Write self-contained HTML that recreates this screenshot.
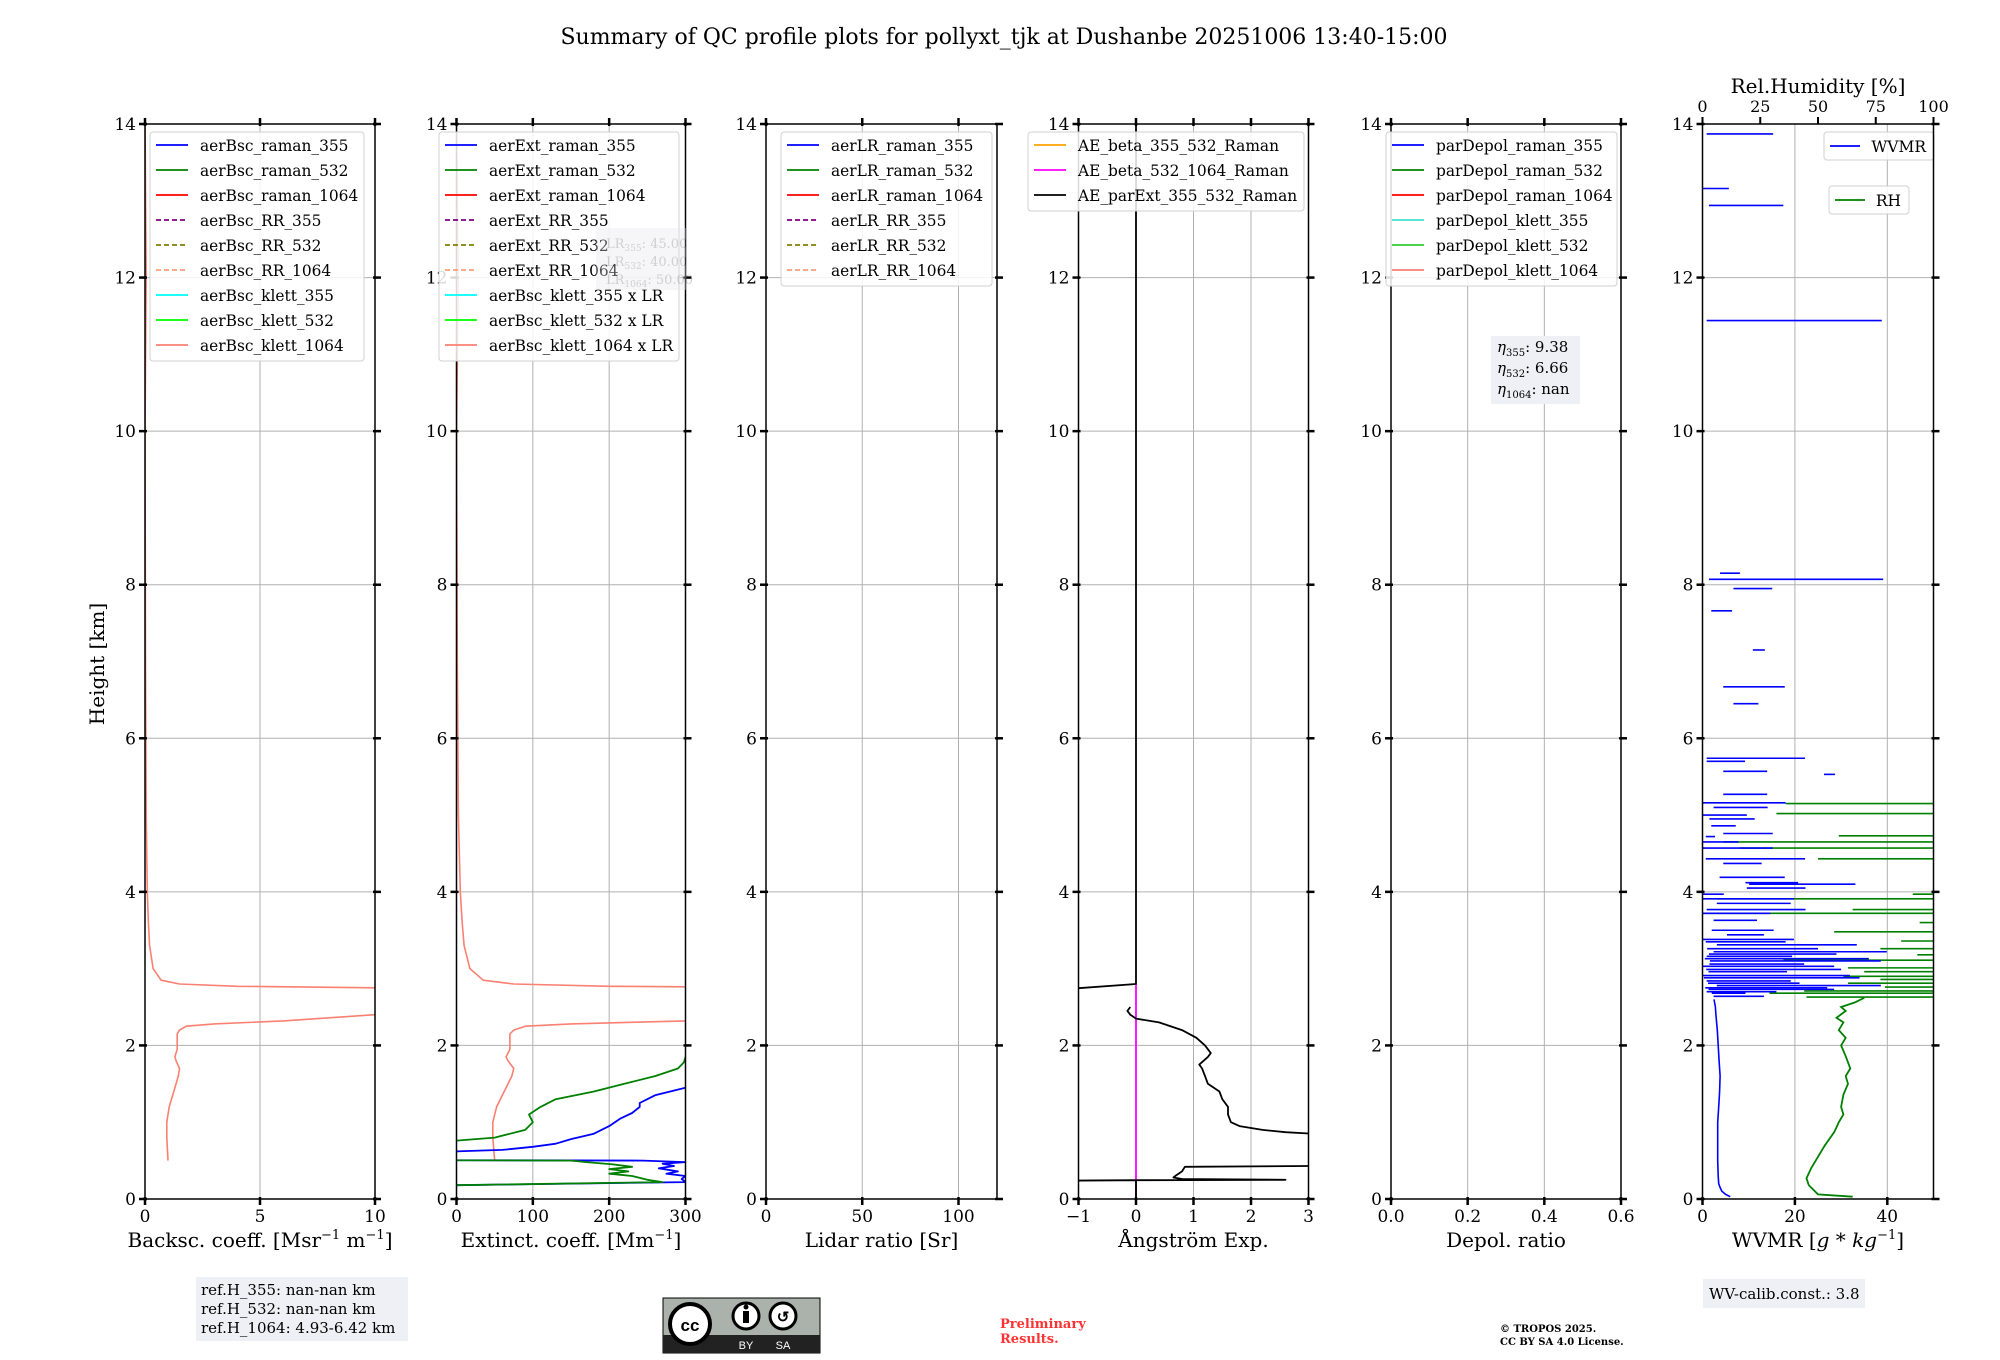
<!DOCTYPE html>
<html><head><meta charset="utf-8"><style>
body{margin:0;background:#fff}
svg{display:block;font-family:"DejaVu Serif","Liberation Serif",serif}
</style></head><body>
<svg id="chart" width="2000" height="1360" viewBox="0 0 2000 1360" xmlns="http://www.w3.org/2000/svg">
<rect width="2000" height="1360" fill="#fff"/>
<text x="1004" y="44" font-size="22" text-anchor="middle">Summary of QC profile plots for pollyxt_tjk at Dushanbe 20251006 13:40-15:00</text>
<text transform="translate(104,664) rotate(-90)" font-size="20" text-anchor="middle">Height [km]</text>
<g id="plots"></g>
<g opacity="0.35">
<rect x="596" y="228" width="90" height="62" fill="#e8e8ee"/>
<text x="606" y="248" font-size="13" fill="#777">LR<tspan font-size="9" dy="3">355</tspan><tspan dy="-3">: 45.00</tspan></text>
<text x="606" y="266" font-size="13" fill="#777">LR<tspan font-size="9" dy="3">532</tspan><tspan dy="-3">: 40.00</tspan></text>
<text x="606" y="284" font-size="13" fill="#777">LR<tspan font-size="9" dy="3">1064</tspan><tspan dy="-3">: 50.00</tspan></text>
</g>
<g>
<rect x="1491" y="336" width="89" height="68" fill="#eef0f5"/>
<text x="1497" y="352" font-size="15"><tspan font-style="italic">η</tspan><tspan font-size="10" dy="4">355</tspan><tspan dy="-4">: 9.38</tspan></text>
<text x="1497" y="373" font-size="15"><tspan font-style="italic">η</tspan><tspan font-size="10" dy="4">532</tspan><tspan dy="-4">: 6.66</tspan></text>
<text x="1497" y="394" font-size="15"><tspan font-style="italic">η</tspan><tspan font-size="10" dy="4">1064</tspan><tspan dy="-4">: nan</tspan></text>
</g>
<g>
<rect x="196" y="1277" width="212" height="64" fill="#eef0f5"/>
<text x="201" y="1295" font-size="15">ref.H_355: nan-nan km</text>
<text x="201" y="1314" font-size="15">ref.H_532: nan-nan km</text>
<text x="201" y="1333" font-size="15">ref.H_1064: 4.93-6.42 km</text>
</g>
<g>
<rect x="663" y="1298" width="157" height="55" fill="#aab2ab" stroke="#000" stroke-width="1"/>
<rect x="663" y="1335" width="157" height="18" fill="#222"/>
<circle cx="690" cy="1324" r="20" fill="#fff" stroke="#000" stroke-width="4"/>
<text x="690" y="1331" font-size="17" font-weight="bold" text-anchor="middle" font-family="Liberation Sans,sans-serif">cc</text>
<circle cx="746" cy="1316" r="13" fill="#fff" stroke="#000" stroke-width="3"/>
<rect x="743" y="1311" width="6" height="12" fill="#000"/><circle cx="746" cy="1307" r="2.5" fill="#000"/>
<circle cx="783" cy="1316" r="13" fill="#fff" stroke="#000" stroke-width="3"/>
<text x="783" y="1322" font-size="15" font-weight="bold" text-anchor="middle" font-family="Liberation Sans,sans-serif">↺</text>
<text x="746" y="1349" font-size="11" fill="#fff" text-anchor="middle" font-family="Liberation Sans,sans-serif">BY</text>
<text x="783" y="1349" font-size="11" fill="#fff" text-anchor="middle" font-family="Liberation Sans,sans-serif">SA</text>
</g>
<text x="1000" y="1328" font-size="13" font-weight="bold" fill="#ff3333">Preliminary</text>
<text x="1000" y="1343" font-size="13" font-weight="bold" fill="#ff3333">Results.</text>
<text x="1500" y="1332" font-size="10" font-weight="bold">© TROPOS 2025.</text>
<text x="1500" y="1345" font-size="10" font-weight="bold">CC BY SA 4.0 License.</text>
<g>
<rect x="1703" y="1279" width="162" height="29" fill="#eef0f5"/>
<text x="1709" y="1299" font-size="15">WV-calib.const.: 3.8</text>
</g>
</svg>
<script>
// ---- data ----
const heightTicks=[0,2,4,6,8,10,12,14];
const bscKlettH=[0.5,0.8,1.0,1.2,1.4,1.6,1.7,1.8,1.85,1.95,2.05,2.15,2.2,2.25,2.28,2.32,2.4,2.5,2.7,2.75,2.77,2.8,2.85,3.0,3.3,3.6,4.0,5.0,7.0,10.0,12.0,14.0];
const bscKlettV=[1.0,0.95,0.95,1.05,1.25,1.45,1.5,1.35,1.3,1.4,1.4,1.4,1.5,1.8,3.0,6.0,10.0,30,30,10.0,4.0,1.5,0.7,0.35,0.2,0.15,0.1,0.05,0.02,0.0,0.05,0.0];
const extR355H=[0.18,0.22,0.26,0.30,0.33,0.36,0.40,0.43,0.46,0.48,0.50,0.505,0.55,0.62,0.64,0.68,0.72,0.78,0.85,0.95,1.05,1.12,1.2,1.25,1.3,1.35,1.4,1.45];
const extR355V=[0,300,295,300,275,290,265,285,270,300,245,0,-30,0,60,100,130,150,180,200,215,230,240,240,250,260,280,300];
const extR532H=[0.18,0.22,0.25,0.30,0.33,0.36,0.39,0.42,0.45,0.48,0.50,0.505,0.55,0.76,0.8,0.9,1.0,1.1,1.2,1.3,1.4,1.5,1.6,1.7,1.78,1.85];
const extR532V=[0,270,250,230,200,225,200,230,205,170,150,0,-30,0,50,90,100,95,110,130,180,220,260,290,298,300];
const lrKlett1064=50;
const aeParExtH=[14,2.8,2.74,null,2.5,2.45,2.4,2.35,2.3,2.2,2.1,2.0,1.9,1.85,1.75,1.7,1.6,1.5,1.4,1.3,1.2,1.1,1.0,0.95,0.9,0.87,0.85,null,0.43,0.42,0.36,0.31,0.28,0.26,0.25,0.245,0.24,null,0.24,0];
const aeParExtV=[0,0,-1.1,null,-0.1,-0.15,-0.1,0,0.4,0.8,1.05,1.2,1.3,1.25,1.1,1.15,1.2,1.25,1.45,1.5,1.6,1.6,1.65,1.8,2.2,2.6,3.05,null,3.05,0.85,0.8,0.7,0.65,0.8,2.6,0,-1.1,null,0,0];
const aeBeta532H=[0,2.8];
const aeBeta532V=[0,0];
const wvmrH=[0.03,0.06,0.1,0.15,0.2,0.3,0.5,0.8,1.0,1.2,1.4,1.6,1.8,2.0,2.2,2.4,2.5,2.6];
const wvmrV=[6.0,5.0,4.2,3.8,3.5,3.4,3.3,3.3,3.3,3.5,3.7,3.8,3.6,3.4,3.2,2.9,2.8,2.5];
const wvmrSegH=[13.87,13.16,12.94,11.44,8.15,8.07,7.95,7.66,7.15,6.67,6.45,5.74,5.70,5.57,5.53,5.27,5.16,5.10,5.0,4.95,4.86,4.76,4.72,4.65,4.57,4.43,4.37,4.19,4.12,4.10,4.05,3.97,3.91,3.85,3.77,3.72,3.63,3.50,3.44,3.38,3.31,3.22,3.16,3.10,3.03,2.96,2.91,2.84,2.78,2.73,2.68,2.64,3.26,3.13,3.06,2.99,2.88,2.81,2.75,2.70,3.19,3.35];
const wvmrSegA=[0.9,0,1.4,0.9,3.8,1.4,6.7,1.9,10.9,4.5,6.7,0.9,0.9,4.5,26.3,4.5,0,2.4,0,1.5,1.9,4.5,0.7,0,0,0.7,4.5,3.7,9.3,10.1,9.6,0,0,3.1,0.9,0,2.4,2.0,5.3,0,3.1,2.4,0.9,1.6,0,1.3,0,0.9,3.1,1.3,2.0,2.4,1.0,0.5,1.5,0.8,0.3,1.2,0.6,0.9,1.4,0.7];
const wvmrSegB=[15.3,5.7,17.5,38.8,8.1,39.1,15.1,6.4,13.5,17.8,12.1,22.2,9.2,14.0,28.7,14.0,18.0,14.1,9.6,11.3,7.2,15.2,2.7,7.8,15.2,22.2,12.8,17.8,20.7,33.1,22.3,4.6,19.8,19.1,22.3,14.7,11.8,15.4,13.3,19.8,33.4,39.9,19.4,38.6,28.5,18.3,31.9,19.1,38.6,28.5,9.3,13.3,25.0,36.0,22.0,30.0,34.0,21.0,27.0,16.0,29.0,18.0];
const rhH=[0.03,0.06,0.12,0.18,0.27,0.4,0.55,0.7,0.87,1.0,1.1,1.2,1.36,1.5,1.6,1.7,1.86,2.0,2.1,2.2,2.3,2.36,2.45,2.5,2.56,2.62];
const rhV=[65,50,48,46,45,47,50,53,57,59,61,60,61,63,62,64,62,60,62,59,61,58,62,60,66,70];
const rhSegH=[5.15,5.02,4.73,4.65,4.57,4.43,3.97,3.91,3.77,3.72,3.60,3.48,3.36,3.26,3.18,3.11,3.01,2.96,2.90,2.86,2.81,2.76,2.71,2.68,2.63];
const rhSegA=[36,32,59,9,16,50,91,6,65,0,94,57,86,77,93,35,63,70,61,77,63,79,44,29,45];

const panels=[
 {name:'backscatter',x0:145,x1:375,min:0,max:10,ticks:[0,5,10],tl:['0','5','10'],xlabel:'Backsc. coeff. [Msr<tspan font-size="13" dy="-8">−1</tspan><tspan dy="8"> m</tspan><tspan font-size="13" dy="-8">−1</tspan><tspan dy="8">]</tspan>',
  legend:{x:150,w:214,items:[['aerBsc_raman_355','#0000ff',0],['aerBsc_raman_532','#008000',0],['aerBsc_raman_1064','#ff0000',0],['aerBsc_RR_355','#800080',1],['aerBsc_RR_532','#808000',1],['aerBsc_RR_1064','#ffa07a',1],['aerBsc_klett_355','#00ffff',0],['aerBsc_klett_532','#00ff00',0],['aerBsc_klett_1064','#fa8072',0]]}},
 {name:'extinction',x0:456.5,x1:685.5,min:0,max:300,ticks:[0,100,200,300],tl:['0','100','200','300'],xlabel:'Extinct. coeff. [Mm<tspan font-size="13" dy="-8">−1</tspan><tspan dy="8">]</tspan>',
  legend:{x:439,w:240,items:[['aerExt_raman_355','#0000ff',0],['aerExt_raman_532','#008000',0],['aerExt_raman_1064','#ff0000',0],['aerExt_RR_355','#800080',1],['aerExt_RR_532','#808000',1],['aerExt_RR_1064','#ffa07a',1],['aerBsc_klett_355 x LR','#00ffff',0],['aerBsc_klett_532 x LR','#00ff00',0],['aerBsc_klett_1064 x LR','#fa8072',0]]}},
 {name:'lidar-ratio',x0:766,x1:997,min:0,max:120,ticks:[0,50,100],tl:['0','50','100'],xlabel:'Lidar ratio [Sr]',
  legend:{x:781,w:211,items:[['aerLR_raman_355','#0000ff',0],['aerLR_raman_532','#008000',0],['aerLR_raman_1064','#ff0000',0],['aerLR_RR_355','#800080',1],['aerLR_RR_532','#808000',1],['aerLR_RR_1064','#ffa07a',1]]}},
 {name:'angstrom',x0:1078.5,x1:1308.5,min:-1,max:3,ticks:[-1,0,1,2,3],tl:['−1','0','1','2','3'],xlabel:'Ångström Exp.',
  legend:{x:1028,w:276,items:[['AE_beta_355_532_Raman','#ffa500',0],['AE_beta_532_1064_Raman','#ff00ff',0],['AE_parExt_355_532_Raman','#000000',0]]}},
 {name:'depol',x0:1391,x1:1621,min:0,max:0.6,ticks:[0,0.2,0.4,0.6],tl:['0.0','0.2','0.4','0.6'],xlabel:'Depol. ratio',
  legend:{x:1386,w:231,items:[['parDepol_raman_355','#0000ff',0],['parDepol_raman_532','#008000',0],['parDepol_raman_1064','#ff0000',0],['parDepol_klett_355','#40e0d0',0],['parDepol_klett_532','#32cd32',0],['parDepol_klett_1064','#fa8072',0]]}},
 {name:'wvmr',x0:1702.5,x1:1933.5,min:0,max:50,ticks:[0,20,40],tl:['0','20','40'],xlabel:'WVMR [<tspan font-style="italic">g</tspan> * <tspan font-style="italic">kg</tspan><tspan font-size="13" dy="-8">−1</tspan><tspan dy="8">]</tspan>',legend:null}
];
const Y0=1199,Y1=124,HMAX=14;
const yS=h=>Y0-(h/HMAX)*(Y0-Y1);
const NS='http://www.w3.org/2000/svg';
const root=document.getElementById('plots');
function mk(tag,attrs,parent){const e=document.createElementNS(NS,tag);for(const k in attrs)e.setAttribute(k,attrs[k]);(parent||root).appendChild(e);return e;}
function pathFrom(hs,vs,xS){let d='',pen=false;for(let i=0;i<hs.length;i++){if(hs[i]===null||vs[i]===null){pen=false;continue;}d+=(pen?'L':'M')+xS(vs[i]).toFixed(1)+','+yS(hs[i]).toFixed(1);pen=true;}return d;}

panels.forEach((p,pi)=>{
 const xS=v=>p.x0+(v-p.min)/(p.max-p.min)*(p.x1-p.x0);
 const g=mk('g',{});
 
 
 const cp=mk('clipPath',{id:'cp'+pi},g);mk('rect',{x:p.x0,y:Y1,width:p.x1-p.x0,height:Y0-Y1},cp);
 heightTicks.forEach(h=>{const l=mk('line',{x1:p.x0,x2:p.x1,y1:yS(h),y2:yS(h),stroke:'#b0b0b0','stroke-width':1},g);
  });
 p.ticks.forEach(t=>{const l=mk('line',{x1:xS(t),x2:xS(t),y1:Y1,y2:Y0,stroke:'#b0b0b0','stroke-width':1},g);
  });
 const data=mk('g',{'clip-path':'url(#cp'+pi+')'},g);
 function line(hs,vs,col,w,name){const e=mk('path',{d:pathFrom(hs,vs,xS),fill:'none',stroke:col,'stroke-width':w,'stroke-linejoin':'round'},data);
  }
 if(p.name==='backscatter'){line(bscKlettH,bscKlettV,'#fa8072',1.6,'line-aerbsc-klett-1064');}
 if(p.name==='extinction'){
  line(bscKlettH,bscKlettV.map(v=>v*lrKlett1064),'#fa8072',1.6,'line-aerbsc-klett-1064-x-lr');
  line(extR355H,extR355V,'#0000ff',1.8,'line-aerext-raman-355');
  line(extR532H,extR532V,'#008000',1.8,'line-aerext-raman-532');}
 if(p.name==='angstrom'){
  line(aeBeta532H,aeBeta532V,'#ff00ff',1.8,'line-ae-beta-532-1064');
  line(aeParExtH,aeParExtV,'#000000',1.8,'line-ae-parext-355-532');}
 if(p.name==='wvmr'){
  const rS=v=>p.x0+v/100*(p.x1-p.x0);
  for(let i=0;i<rhSegH.length;i++){const e=mk('line',{x1:rS(rhSegA[i]),x2:rS(100),y1:yS(rhSegH[i]),y2:yS(rhSegH[i]),stroke:'#008000','stroke-width':1.6},data);
   }
  const e2=mk('path',{d:pathFrom(rhH,rhV,rS),fill:'none',stroke:'#008000','stroke-width':1.8},data);
  
  for(let i=0;i<wvmrSegH.length;i++){const e=mk('line',{x1:xS(wvmrSegA[i]),x2:xS(wvmrSegB[i]),y1:yS(wvmrSegH[i]),y2:yS(wvmrSegH[i]),stroke:'#0000ff','stroke-width':1.6},data);
   }
  line(wvmrH,wvmrV,'#0000ff',1.6,'line-wvmr');
  [0,25,50,75,100].forEach(t=>{const x=rS(t);mk('line',{x1:x,x2:x,y1:Y1,y2:Y1-7,stroke:'#000','stroke-width':2},g);
   const tx=mk('text',{x:x,y:Y1-12,'font-size':16,'text-anchor':'middle'},g);tx.textContent=t;
   });
  const tt=mk('text',{x:1818,y:93,'font-size':20,'text-anchor':'middle'},g);tt.textContent='Rel.Humidity [%]';
  
  [['WVMR','#0000ff',1824,132,110],['RH','#008000',1829,186,80]].forEach(L=>{
   const lg=mk('g',{},g);
   mk('rect',{x:L[2],y:L[3],width:L[4],height:28,rx:3,fill:'#fff','fill-opacity':0.85,stroke:'#d0d0d0'},lg);
   mk('line',{x1:L[2]+6,x2:L[2]+36,y1:L[3]+14,y2:L[3]+14,stroke:L[1],'stroke-width':1.8},lg);
   const t=mk('text',{x:L[2]+L[4]-8,y:L[3]+20,'font-size':15.5,'text-anchor':'end'},lg);t.textContent=L[0];});
 }
 mk('rect',{x:p.x0,y:Y1,width:p.x1-p.x0,height:Y0-Y1,fill:'none',stroke:'#000','stroke-width':1.5},g);
 heightTicks.forEach(h=>{const y=yS(h);
  mk('line',{x1:p.x0-6,x2:p.x0+2,y1:y,y2:y,stroke:'#000','stroke-width':2.5},g);
  mk('line',{x1:p.x1-2,x2:p.x1+6,y1:y,y2:y,stroke:'#000','stroke-width':2.5},g);
  const t=mk('text',{x:p.x0-9,y:y+6,'font-size':17,'text-anchor':'end'},g);t.textContent=h;
  });
 p.ticks.forEach((v,i)=>{const x=xS(v);
  mk('line',{x1:x,x2:x,y1:Y0-2,y2:Y0+6,stroke:'#000','stroke-width':2.5},g);
  if(p.name!=='wvmr')mk('line',{x1:x,x2:x,y1:Y1+2,y2:Y1-6,stroke:'#000','stroke-width':2.5},g);
  const t=mk('text',{x:x,y:Y0+23,'font-size':17,'text-anchor':'middle'},g);t.textContent=p.tl[i];
  });
 const xl=mk('text',{x:(p.x0+p.x1)/2,y:1247,'font-size':20,'text-anchor':'middle'},g);xl.innerHTML=p.xlabel;
 
 if(p.legend){const L=p.legend;const lg=mk('g',{},g);
  
  const hgt=L.items.length*25+4;
  mk('rect',{x:L.x,y:132,width:L.w,height:hgt,rx:3,fill:'#fff','fill-opacity':0.85,stroke:'#d0d0d0'},lg);
  L.items.forEach((it,i)=>{const y=145+i*25;
   const ln=mk('line',{x1:L.x+6,x2:L.x+38,y1:y,y2:y,stroke:it[1],'stroke-width':1.8},lg);
   if(it[2])ln.setAttribute('stroke-dasharray','5,3');
   const t=mk('text',{x:L.x+50,y:y+6,'font-size':15.4},lg);t.textContent=it[0];
   });
 }
});
</script>
</body></html>
